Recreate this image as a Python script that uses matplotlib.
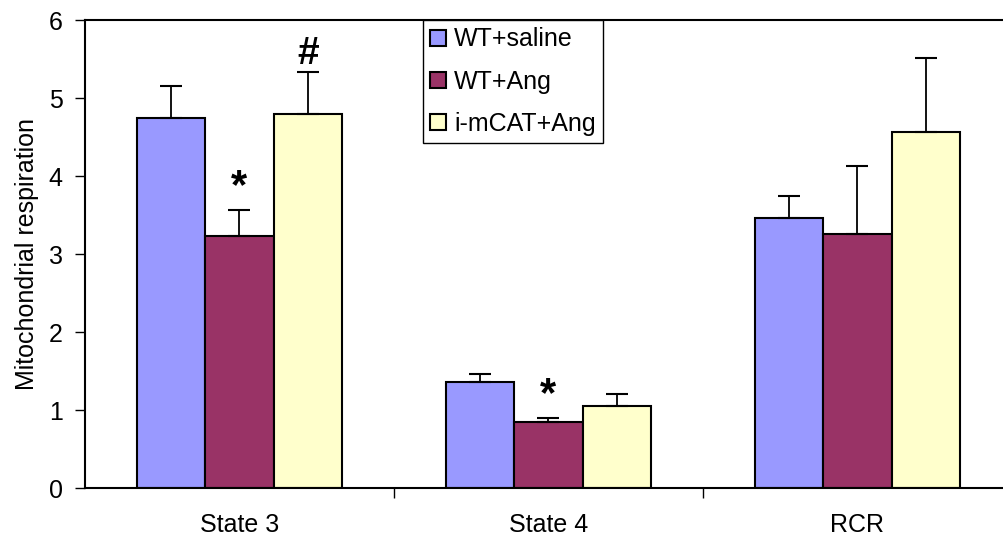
import matplotlib
matplotlib.use("Agg")
import matplotlib.pyplot as plt
import numpy as np
from matplotlib.ticker import FixedLocator, NullFormatter

plt.rcParams['font.family'] = ['Liberation Sans', 'DejaVu Sans']

categories = ["State 3", "State 4", "RCR"]
series = ["WT+saline", "WT+Ang", "i-mCAT+Ang"]
colors = ["#9999FF", "#993366", "#FFFFCC"]
wt_saline = [4.74, 1.36, 3.46]
wt_saline_err = [0.41, 0.10, 0.28]
wt_ang = [3.23, 0.85, 3.26]
wt_ang_err = [0.33, 0.05, 0.87]
imcat_ang = [4.80, 1.05, 4.56]
imcat_ang_err = [0.53, 0.16, 0.95]
values = [wt_saline, wt_ang, imcat_ang]
errors = [wt_saline_err, wt_ang_err, imcat_ang_err]
annotations = [("*", 0, 1, 3.86, 30), ("*", 1, 1, 1.19, 30), ("#", 0, 2, 5.56, 28)]

fig = plt.figure(figsize=(10.04, 5.41), dpi=100)
ax = fig.add_axes([85/1004, 1 - 488/541, (1004-85)/1004, (488-20)/541])

x = np.arange(len(categories))
w = 0.222
for i, (vals, errs, c, lab) in enumerate(zip(values, errors, colors, series)):
    pos = x + (i - 1) * w
    ax.bar(pos, vals, width=w, color=c, edgecolor="black", linewidth=1.5, label=lab, zorder=2)
    ax.errorbar(pos, vals, yerr=[np.zeros(len(errs)), errs], fmt="none", ecolor="black",
                elinewidth=1.3, capsize=8, capthick=1.5, zorder=3)

for txt, g, s, yv, fs in annotations:
    ax.text(x[g] + (s - 1) * w, yv, txt, ha="center", va="center", fontsize=fs,
            fontweight="bold")

ax.set_ylim(0, 6)
ax.set_xlim(-0.5, (1004-85)/309 - 0.5)
ax.set_yticks(range(0, 7))
ax.tick_params(axis="y", labelsize=18, direction="out", length=7, width=1, pad=9)
ax.set_xticks(x)
ax.set_xticklabels(categories, fontsize=18)
ax.tick_params(axis="x", which="major", length=0, pad=18)
ax.xaxis.set_minor_locator(FixedLocator([0.5, 1.5]))
ax.tick_params(axis="x", which="minor", length=7, width=1, direction="out")
ax.xaxis.set_minor_formatter(NullFormatter())
ax.spines["right"].set_visible(False)
for sp in ["left", "bottom", "top"]:
    ax.spines[sp].set_linewidth(1.5)
ax.set_ylabel("Mitochondrial respiration", fontsize=18, labelpad=7)

leg = ax.legend(loc="upper left", bbox_to_anchor=((423-85)/919, 1.0), fontsize=18,
                frameon=True, fancybox=False, edgecolor="black", framealpha=1,
                handlelength=0.62, handleheight=0.62, handletextpad=0.32,
                labelspacing=0.72, borderpad=0.3, borderaxespad=0)
leg.get_frame().set_linewidth(1)
for p in leg.get_patches():
    p.set_linewidth(1.5)

fig.savefig("out.png", dpi=100)
